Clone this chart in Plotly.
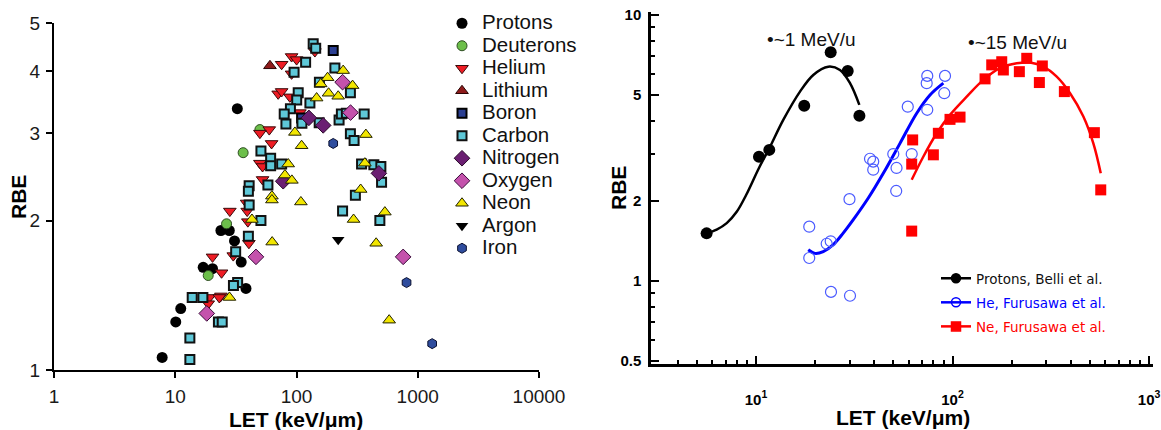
import plotly.graph_objects as go

# ---- left panel: RBE vs LET by ion (LET in keV/um)
protons_let = [7.8, 10.1, 11.1, 17.0, 20.3, 23.8, 27.9, 30.8, 35.0, 38.3, 32.5]
protons_rbe = [1.06, 1.25, 1.33, 1.61, 1.60, 1.91, 1.91, 1.82, 1.65, 1.46, 3.36]

deuterons_let = [26.5, 18.7, 36.3, 49.9]
deuterons_rbe = [1.97, 1.55, 2.74, 3.05]

helium_let = [91.1, 100.2, 75.4, 141.8, 91.1, 70.6, 75.4, 88.2, 106.7, 59.6, 49.9, 62.3, 49.9, 52.5,
              52.5, 28.2, 38.8, 39.2, 39.7, 40.5, 20.3, 30.1, 24.1, 19.1, 18.7, 23.8, 23.1]
helium_rbe = [4.28, 4.22, 4.13, 4.38, 3.95, 3.60, 3.64, 3.55, 3.30, 3.05, 3.00, 2.86, 2.61, 2.57,
              2.42, 2.09, 2.17, 2.09, 1.99, 1.80, 1.69, 1.70, 1.57, 1.40, 1.36, 1.41, 1.40]

lithium_let = [60.4]
lithium_rbe = [4.10]

boron_let = [200.8, 110.2]
boron_rbe = [4.40, 3.22]

carbon_let = [137.3, 144.0, 118.9, 95.5, 207.3, 154.5, 278.3, 103.3, 100.4, 129.0, 89.1, 79.2,
              81.8, 110.8, 153.9, 224.5, 234.5, 257.9, 361.5, 278.3, 298.5, 50.9, 61.2, 61.2,
              75.4, 344.1, 434.5, 496.4, 503, 40.7, 40.1, 58.1, 305.9, 40.7, 50.9, 239.9, 487,
              40.1, 31.5, 32.7, 30.2, 13.8, 16.9, 22.7, 24.4, 13.2, 13.2]
carbon_rbe = [4.54, 4.45, 4.17, 3.98, 4.06, 3.80, 3.62, 3.62, 3.50, 3.45, 3.36, 3.28,
              3.13, 3.14, 3.15, 3.19, 3.28, 3.29, 3.28, 2.99, 2.90, 2.76, 2.67, 2.58,
              2.60, 2.60, 2.59, 2.57, 2.39, 2.35, 2.29, 2.36, 2.25, 2.15, 2.00, 2.09, 2.00,
              1.86, 1.73, 1.50, 1.48, 1.40, 1.40, 1.25, 1.25, 1.16, 1.05]

nitrogen_let = [126.5, 166, 478, 77.7]
nitrogen_rbe = [3.22, 3.11, 2.49, 2.40]

oxygen_let = [239.9, 279, 46.3, 18.2, 758]
oxygen_rbe = [3.80, 3.30, 1.69, 1.30, 1.69]

neon_let = [242.7, 180.5, 158.3, 290.1, 183.9, 220.7, 146.5, 97.0, 110.2, 373.3, 366.4, 85.4,
            80.3, 91.6, 338.2, 62.7, 62.7, 108.7, 535.6, 295.6, 42.9, 63.0, 454, 28.0, 581]
neon_rbe = [4.01, 3.88, 3.77, 3.74, 3.61, 3.56, 3.53, 3.01, 2.83, 2.98, 2.61, 2.60,
            2.47, 2.41, 2.31, 2.24, 2.20, 2.18, 2.08, 2.01, 2.01, 1.81, 1.80, 1.40, 1.26]

argon_let = [220.7]
argon_rbe = [1.83]

iron_let = [200.8, 808.6, 1315]
iron_rbe = [2.86, 1.50, 1.13]

# ---- right panel: measured points and fitted curves
p_let = [5.61, 10.36, 11.69, 17.6, 24.0, 29.3, 33.6]
p_rbe = [1.51, 2.93, 3.11, 4.56, 7.24, 6.16, 4.18]
p_fit_let = [5.61, 6.31, 7.10, 7.98, 8.9, 10.36, 11.69, 13.77, 16.75, 19.57, 23.33, 26.76, 30.09, 33.57]
p_fit_rbe = [1.51, 1.56, 1.65, 1.82, 2.10, 2.66, 3.15, 4.03, 5.15, 5.95, 6.39, 6.21, 5.54, 4.59]

he_let = [18.67, 18.67, 22.9, 24.0, 24.08, 30.09, 29.91, 38.04, 39.5, 39.5, 49.96, 51.9, 51.7,
          62.0, 59.2, 74.4, 74.4, 73.9, 91.6, 90.8]
he_rbe = [1.60, 1.22, 1.38, 1.41, 0.91, 0.88, 2.03, 2.88, 2.81, 2.62, 3.00, 2.66, 2.18,
          3.00, 4.52, 4.40, 5.90, 5.54, 5.90, 5.08]
he_fit_let = [18.45, 19.96, 22.0, 24.74, 27.72, 31.28, 37.29, 44.45, 54.05, 65.75, 76.83, 89.8]
he_fit_rbe = [1.31, 1.27, 1.29, 1.37, 1.51, 1.70, 2.05, 2.54, 3.29, 4.27, 5.00, 5.54]

ne_let = [62.0, 62.7, 62.0, 79.9, 84.7, 97.1, 109.2, 146.4, 158.3, 178, 181.4, 218.8, 238.6,
          286.4, 276.6, 370.7, 526.9, 567.8]
ne_rbe = [2.75, 3.39, 1.54, 2.98, 3.59, 4.05, 4.13, 5.75, 6.49, 6.67, 6.21, 6.12, 6.87,
          6.43, 5.57, 5.15, 3.61, 2.20]
ne_fit_let = [62.0, 71.0, 83.1, 97.1, 118.1, 143.5, 174.4, 212.2, 248.0, 289.8, 339.0, 396.3, 463.1, 520.6, 567.8]
ne_fit_rbe = [2.40, 2.93, 3.59, 4.21, 4.93, 5.70, 6.31, 6.58, 6.62, 6.39, 5.86, 5.08, 4.15, 3.29, 2.54]

W, H = 1161, 430
FONT = "Liberation Sans, Arial, sans-serif"


def px(x):
    return x / W


def py(y):
    return 1 - y / H


fig = go.Figure()

# (name, let, rbe, symbol, fill, outline, outline width, size)
species = [
    ("Protons", protons_let, protons_rbe, "circle", "#000000", "#000000", 0, 11),
    ("Deuterons", deuterons_let, deuterons_rbe, "circle", "#6cbf4a", "#2d4d20", 1, 10),
    ("Helium", helium_let, helium_rbe, "triangle-down", "#ee1c24", "#3a0a0a", 1, 11),
    ("Lithium", lithium_let, lithium_rbe, "triangle-up", "#8e1b1b", "#2a0505", 1, 11),
    ("Boron", boron_let, boron_rbe, "square", "#2b3f92", "#000000", 2, 9),
    ("Carbon", carbon_let, carbon_rbe, "square", "#5ec8d8", "#111111", 2, 9),
    ("Nitrogen", nitrogen_let, nitrogen_rbe, "diamond", "#6b1f72", "#2a0a2a", 1, 12),
    ("Oxygen", oxygen_let, oxygen_rbe, "diamond", "#c452ac", "#3a0a3a", 1, 12),
    ("Neon", neon_let, neon_rbe, "triangle-up", "#f2e600", "#222200", 1, 11),
    ("Argon", argon_let, argon_rbe, "triangle-down", "#000000", "#000000", 0, 11),
    ("Iron", iron_let, iron_rbe, "hexagon", "#2f4d9e", "#0a1030", 1, 10),
]

for name, xs, ys, sym, fill, edge, ew, size in species:
    fig.add_trace(go.Scatter(
        x=xs, y=ys, mode="markers", legend="legend", legendgroup=name,
        name=f"<span style='font-size:20.5px'>{name}</span>",
        marker=dict(symbol=sym, color=fill, size=size, line=dict(color=edge, width=ew)),
        xaxis="x", yaxis="y",
    ))

# right panel curves
fig.add_trace(go.Scatter(x=p_fit_let, y=p_fit_rbe, mode="lines", line=dict(color="black", width=2.5, shape="spline"),
                         showlegend=False, xaxis="x2", yaxis="y2"))
fig.add_trace(go.Scatter(x=he_fit_let, y=he_fit_rbe, mode="lines", line=dict(color="#0000ff", width=3, shape="spline"),
                         showlegend=False, xaxis="x2", yaxis="y2"))
fig.add_trace(go.Scatter(x=ne_fit_let, y=ne_fit_rbe, mode="lines", line=dict(color="#ff0000", width=2.5, shape="spline"),
                         showlegend=False, xaxis="x2", yaxis="y2"))

# right panel points
fig.add_trace(go.Scatter(x=p_let, y=p_rbe, mode="markers", showlegend=False, xaxis="x2", yaxis="y2",
                         marker=dict(symbol="circle", color="black", size=12)))
fig.add_trace(go.Scatter(x=he_let, y=he_rbe, mode="markers", showlegend=False, xaxis="x2", yaxis="y2",
                         marker=dict(symbol="circle-open", color="#4b5bff", size=11, line=dict(width=1.2))))
fig.add_trace(go.Scatter(x=ne_let, y=ne_rbe, mode="markers", showlegend=False, xaxis="x2", yaxis="y2",
                         marker=dict(symbol="square", color="#ff0000", size=11)))

# right legend entries
legend_items = [
    ("Protons, Belli et al.", "black", "circle", "#111111"),
    ("He, Furusawa et al.", "#0000ff", "circle-open", "#0000ff"),
    ("Ne, Furusawa et al.", "#ff0000", "square", "#ff0000"),
]
for label, col, sym, txt in legend_items:
    fig.add_trace(go.Scatter(
        x=[None], y=[None], mode="lines+markers", legend="legend2", legendgroup=label,
        name=f"<span style='color:{txt}'>{label}</span>",
        line=dict(color=col, width=2.5), marker=dict(symbol=sym, color=col, size=9, line=dict(width=1.5, color=col)),
        xaxis="x2", yaxis="y2",
    ))

axis_line = dict(showline=True, linecolor="black", showgrid=False, zeroline=False, automargin=False)

fig.update_layout(
    width=W, height=H,
    margin=dict(l=0, r=0, t=0, b=0, autoexpand=False),
    paper_bgcolor="white", plot_bgcolor="white",
    font=dict(family=FONT, color="black"),
    xaxis=dict(
        type="log", domain=[px(54), px(539)], range=[0, 4], anchor="y",
        tickmode="array", tickvals=[1, 10, 100, 1000, 10000],
        ticktext=["1", "10", "100", "1000", "10000"],
        ticks="outside", ticklen=6, tickwidth=2, tickcolor="black",
        tickfont=dict(size=19, color="#1a1a1a"), ticklabelstandoff=2,
        linewidth=2, **axis_line,
    ),
    yaxis=dict(
        type="log", domain=[py(370), py(23)], range=[0, 0.699], anchor="x",
        tickmode="array", tickvals=[1, 2, 3, 4, 5], ticktext=["1", "2", "3", "4", "5"],
        ticks="outside", ticklen=6, tickwidth=2, tickcolor="black",
        tickfont=dict(size=19, color="#1a1a1a"), ticklabelstandoff=2,
        linewidth=2, **axis_line,
    ),
    xaxis2=dict(
        type="log", domain=[px(651), px(1153)], range=[0.466, 3.02], anchor="y2",
        tickmode="array", tickvals=[10, 100, 1000],
        ticktext=["<b>10<sup>1</sup></b>", "<b>10<sup>2</sup></b>", "<b>10<sup>3</sup></b>"],
        ticks="inside", ticklen=8, tickwidth=2, tickcolor="black",
        minor=dict(tickmode="array", tickvals=[4, 5, 6, 7, 8, 9, 20, 30, 40, 50, 60, 70, 80, 90,
                                                200, 300, 400, 500, 600, 700, 800, 900],
                   ticks="inside", ticklen=4, tickwidth=2, tickcolor="black"),
        tickfont=dict(size=15), ticklabelstandoff=20,
        linewidth=2.5, **axis_line,
    ),
    yaxis2=dict(
        type="log", domain=[py(364), py(12)], range=[-0.312, 1.011], anchor="x2",
        tickmode="array", tickvals=[0.5, 1, 2, 5, 10],
        ticktext=["<b>0.5</b>", "<b>1</b>", "<b>2</b>", "<b>5</b>", "<b>10</b>"],
        ticks="inside", ticklen=8, tickwidth=2, tickcolor="black",
        minor=dict(tickmode="array", tickvals=[0.6, 0.7, 0.8, 0.9, 3, 4, 6, 7, 8, 9],
                   ticks="inside", ticklen=4, tickwidth=2, tickcolor="black"),
        tickfont=dict(size=15), ticklabelstandoff=4,
        linewidth=2.5, **axis_line,
    ),
    legend=dict(
        x=px(442), y=py(7), xanchor="left", yanchor="top",
        font=dict(size=15, family=FONT, color="#111111"), bgcolor="rgba(0,0,0,0)",
        tracegroupgap=0, itemclick=False,
    ),
    legend2=dict(
        x=px(936), y=py(263), xanchor="left", yanchor="top",
        font=dict(size=13.5, family="DejaVu Sans, sans-serif"), bgcolor="rgba(0,0,0,0)",
        tracegroupgap=3.5, itemclick=False,
    ),
    annotations=[
        dict(text="<b>RBE</b>", x=px(18), y=py(197), xref="paper", yref="paper", showarrow=False,
             xanchor="center", yanchor="middle", textangle=-90, font=dict(size=21)),
        dict(text="<b>LET (keV/\u03bcm)</b>", x=px(296), y=py(419), xref="paper", yref="paper",
             xanchor="center", yanchor="middle", showarrow=False, font=dict(size=21)),
        dict(text="<b>RBE</b>", x=px(618), y=py(188), xref="paper", yref="paper", showarrow=False,
             xanchor="center", yanchor="middle", textangle=-90, font=dict(size=21)),
        dict(text="<b>LET (keV/\u03bcm)</b>", x=px(903), y=py(417), xref="paper", yref="paper",
             xanchor="center", yanchor="middle", showarrow=False, font=dict(size=21)),
        dict(text="\u2022~1 MeV/u", x=px(765), y=py(40), xref="paper", yref="paper", xanchor="left",
             yanchor="middle", showarrow=False, font=dict(size=19, color="#111111")),
        dict(text="\u2022~15 MeV/u", x=px(966), y=py(42), xref="paper", yref="paper", xanchor="left",
             yanchor="middle", showarrow=False, font=dict(size=19, color="#111111")),
    ],
)

fig.write_html("out.html", config={"displayModeBar": False},
               post_script="document.body.style.margin='0px';")
